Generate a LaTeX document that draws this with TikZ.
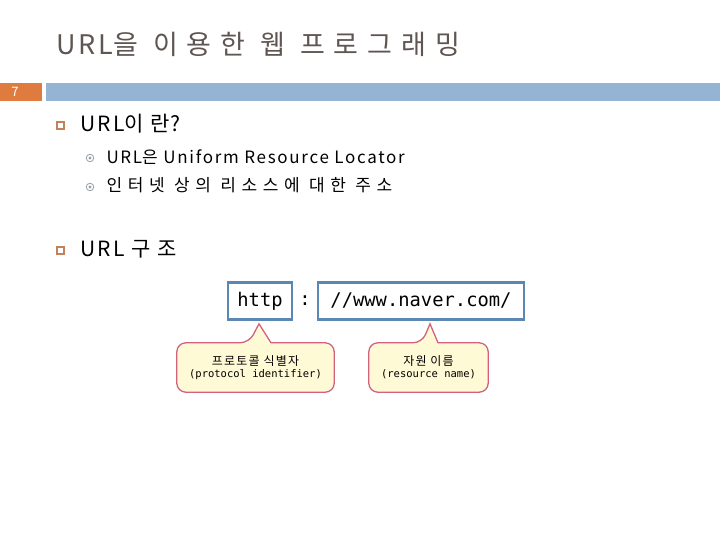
\documentclass[tikz,border=0pt]{standalone}
\usepackage{fontspec}
\setmainfont[LetterSpace=10]{Noto Sans CJK KR}
\newfontfamily\kofont[LetterSpace=33]{Noto Sans CJK KR}
\newfontfamily\titleko[LetterSpace=33]{Noto Sans CJK KR}
\newfontfamily\urlmono{DejaVu Sans Mono}
\usetikzlibrary{positioning, backgrounds}

\definecolor{titlegray}{RGB}{95,85,82}
\definecolor{numorange}{RGB}{224,123,63}
\definecolor{barblue}{RGB}{149,179,211}
\definecolor{bulletorange}{RGB}{196,128,88}
\definecolor{dotgray}{RGB}{150,160,168}
\definecolor{boxblue}{RGB}{92,134,180}
\definecolor{notepink}{RGB}{212,96,128}
\definecolor{noteyellow}{RGB}{255,250,214}

\tikzset{
  bulletbox/.style={draw=bulletorange, line width=1.6pt, minimum size=6.5pt, inner sep=0pt},
  subdot/.style={circle, draw=dotgray, line width=0.8pt, minimum size=7.5pt, inner sep=0pt},
  urlbox/.style={draw=boxblue, line width=2.6pt, minimum height=37pt, inner sep=0pt,
    font=\urlmono\fontsize{18.8}{20}\selectfont},
  notetext/.style={minimum height=49pt, inner sep=0pt, align=center},
  balloon/.style={draw=notepink, fill=noteyellow, line width=1.3pt}
}

\newcommand{\ko}[1]{{\kofont #1}}
\newcommand{\koline}[1]{{\fontsize{12}{20}\selectfont #1}}
\newcommand{\enline}[1]{{\urlmono\fontsize{10.5}{20}\selectfont #1}}

\begin{document}
\begin{tikzpicture}[x=1pt, y=-1pt]
    \useasboundingbox (0,0) rectangle (720,540);

    % Title and bar
    \node[anchor=west, text=titlegray, font=\fontsize{27}{30}\selectfont] (title) at (53,44) {URL{\titleko 을 이용한 웹 프로그래밍}};
    \node[fill=numorange, anchor=north west, minimum width=42pt, minimum height=18pt, inner sep=0pt] (pagebox) at (0,83) {};
    \node[text=white, font=\fontsize{13}{14}\selectfont] (pagenum) at (15,92) {7};
    \node[fill=barblue, anchor=north west, minimum width=674pt, minimum height=18pt, inner sep=0pt] (bar) at (46,83) {};

    % Bullets
    \node[bulletbox] (b1) at (60.5,125.5) {};
    \node[anchor=west, font=\fontsize{21}{24}\selectfont] (q1) at (77,124) {URL\ko{이란}?};
    \node[subdot] (d1) at (90,158) {};
    \fill[dotgray] (d1) circle (1.6);
    \node[anchor=west, font=\fontsize{17}{19}\selectfont] (s1) at (103,157) {URL\ko{은} Uniform Resource Locator};
    \node[subdot] (d2) at (90,187) {};
    \fill[dotgray] (d2) circle (1.6);
    \node[anchor=west, font=\fontsize{17}{19}\selectfont] (s2) at (103,185) {\ko{인터넷 상의 리소스에 대한 주소}};
    \node[bulletbox] (b2) at (60.5,250.5) {};
    \node[anchor=west, font=\fontsize{21}{24}\selectfont] (q2) at (77,249) {URL \ko{구조}};

    % URL parts
    \node[urlbox, minimum width=64pt] (proto) at (260,301) {http};
    \node[font=\urlmono\fontsize{18.8}{20}\selectfont] (colon) at (305,301) {:};
    \node[urlbox, minimum width=206pt] (resource) at (421,301) {//www.naver.com/};

    % Notes
    \node[notetext, minimum width=157pt] (protoNote) at (255.5,367.5) {\koline{프로토콜 식별자}\\\enline{(protocol identifier)}};
    \node[notetext, minimum width=119pt] (resNote) at (428.5,367.5) {\koline{자원 이름}\\\enline{(resource name)}};
    \coordinate (protoTip) at ([xshift=-1pt, yshift=-3pt]proto.south);
    \coordinate (resTip) at ([xshift=9pt, yshift=-3pt]resource.south);

    \begin{scope}[on background layer]
    \draw[balloon] ([xshift=-10pt]protoNote.north -| protoTip) [sharp corners] -- (protoTip)
        -- ([xshift=12pt]protoNote.north -| protoTip) [rounded corners=9pt] -- (protoNote.north east)
        -- (protoNote.south east) -- (protoNote.south west) -- (protoNote.north west) -- cycle;
    \draw[balloon] ([xshift=-8pt]resNote.north -| resTip) [sharp corners] -- (resTip)
        -- ([xshift=8pt]resNote.north -| resTip) [rounded corners=9pt] -- (resNote.north east)
        -- (resNote.south east) -- (resNote.south west) -- (resNote.north west) -- cycle;
    \end{scope}
\end{tikzpicture}
\end{document}
